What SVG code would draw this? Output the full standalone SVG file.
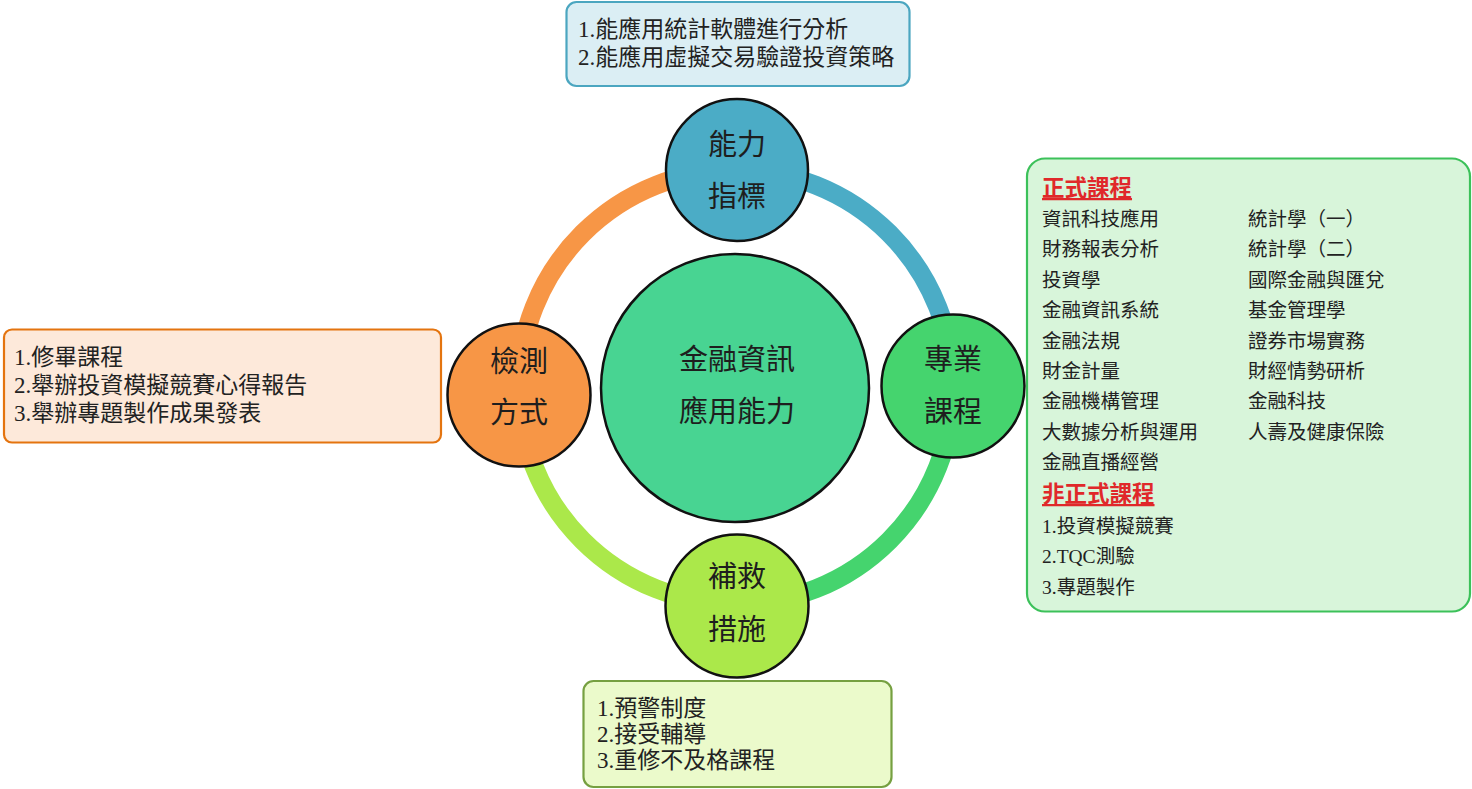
<svg xmlns="http://www.w3.org/2000/svg" width="1472" height="789" viewBox="0 0 1472 789">
<style>
.box{stroke-width:2.2}
.bt{font-family:"Liberation Serif","Noto Sans CJK TC",serif;font-size:23px;fill:#222}
.it{font-family:"Liberation Serif","Noto Sans CJK TC",serif;font-size:19.5px;fill:#222}
.hd{font-family:"Liberation Sans","Noto Sans CJK TC",sans-serif;font-size:22.5px;font-weight:bold;fill:#e0282a}
.ct{font-family:"Noto Sans CJK TC",sans-serif;font-size:29px;fill:#1e1e1e;text-anchor:middle}
.node{stroke:#111;stroke-width:2.5}
.arc{fill:none;stroke-width:19}
</style>
<rect width="1472" height="789" fill="#ffffff"/>
<g id="connectors">
<path class="arc" stroke="#4bacc6" d="M736,170 A217,217 0 0 1 953,387"/>
<path class="arc" stroke="#45d46e" d="M953,387 A217,217 0 0 1 736,604"/>
<path class="arc" stroke="#abe84a" d="M736,604 A217,217 0 0 1 519,387"/>
<path class="arc" stroke="#f79646" d="M519,387 A217,217 0 0 1 736,170"/>
</g>
<g id="center">
<circle class="node" cx="735" cy="388" r="134" fill="#48d492"/>
<text class="ct" x="737" y="370">金融資訊</text>
<text class="ct" x="737" y="422">應用能力</text>
</g>
<g id="n-top">
<circle class="node" cx="737" cy="170" r="71" fill="#4bacc6"/>
<text class="ct" x="737" y="155">能力</text>
<text class="ct" x="737" y="207">指標</text>
</g>
<g id="n-right">
<circle class="node" cx="953" cy="386" r="71.5" fill="#45d46e"/>
<text class="ct" x="953" y="370">專業</text>
<text class="ct" x="953" y="422">課程</text>
</g>
<g id="n-bottom">
<circle class="node" cx="737" cy="606" r="71.5" fill="#abe84a"/>
<text class="ct" x="737" y="587">補救</text>
<text class="ct" x="737" y="640">措施</text>
</g>
<g id="n-left">
<circle class="node" cx="519" cy="395" r="71.5" fill="#f79646"/>
<text class="ct" x="519" y="372">檢測</text>
<text class="ct" x="519" y="423">方式</text>
</g>
<g id="box-top">
<rect class="box" x="566.5" y="2" width="343" height="84" rx="10" fill="#dbeef4" stroke="#4ba6c0"/>
<text class="bt" x="578" y="37">1.能應用統計軟體進行分析</text>
<text class="bt" x="578" y="65">2.能應用虛擬交易驗證投資策略</text>
</g>
<g id="box-left">
<rect class="box" x="4" y="329.5" width="437" height="113" rx="8" fill="#fde9da" stroke="#e4740f"/>
<text class="bt" x="14" y="365">1.修畢課程</text>
<text class="bt" x="14" y="393">2.舉辦投資模擬競賽心得報告</text>
<text class="bt" x="14" y="421">3.舉辦專題製作成果發表</text>
</g>
<g id="box-bottom">
<rect class="box" x="583.5" y="681" width="308" height="106" rx="10" fill="#ebfacb" stroke="#76a041"/>
<text class="bt" x="597" y="716">1.預警制度</text>
<text class="bt" x="597" y="742">2.接受輔導</text>
<text class="bt" x="597" y="768">3.重修不及格課程</text>
</g>
<g id="box-right">
<rect class="box" x="1027" y="158.5" width="443" height="453" rx="18" fill="#d8f5da" stroke="#3cc15a"/>
<text class="hd" x="1042" y="196" text-decoration="underline">正式課程</text>
<text class="it" x="1042" y="226">資訊科技應用</text>
<text class="it" x="1042" y="256">財務報表分析</text>
<text class="it" x="1042" y="287">投資學</text>
<text class="it" x="1042" y="317">金融資訊系統</text>
<text class="it" x="1042" y="348">金融法規</text>
<text class="it" x="1042" y="378">財金計量</text>
<text class="it" x="1042" y="408">金融機構管理</text>
<text class="it" x="1042" y="439">大數據分析與運用</text>
<text class="it" x="1042" y="469">金融直播經營</text>
<text class="it" x="1248" y="226">統計學（一）</text>
<text class="it" x="1248" y="256">統計學（二）</text>
<text class="it" x="1248" y="287">國際金融與匯兌</text>
<text class="it" x="1248" y="317">基金管理學</text>
<text class="it" x="1248" y="348">證券市場實務</text>
<text class="it" x="1248" y="378">財經情勢研析</text>
<text class="it" x="1248" y="408">金融科技</text>
<text class="it" x="1248" y="439">人壽及健康保險</text>
<text class="hd" x="1042" y="502" text-decoration="underline">非正式課程</text>
<text class="it" x="1042" y="533">1.投資模擬競賽</text>
<text class="it" x="1042" y="563">2.TQC測驗</text>
<text class="it" x="1042" y="594">3.專題製作</text>
</g>
</svg>
